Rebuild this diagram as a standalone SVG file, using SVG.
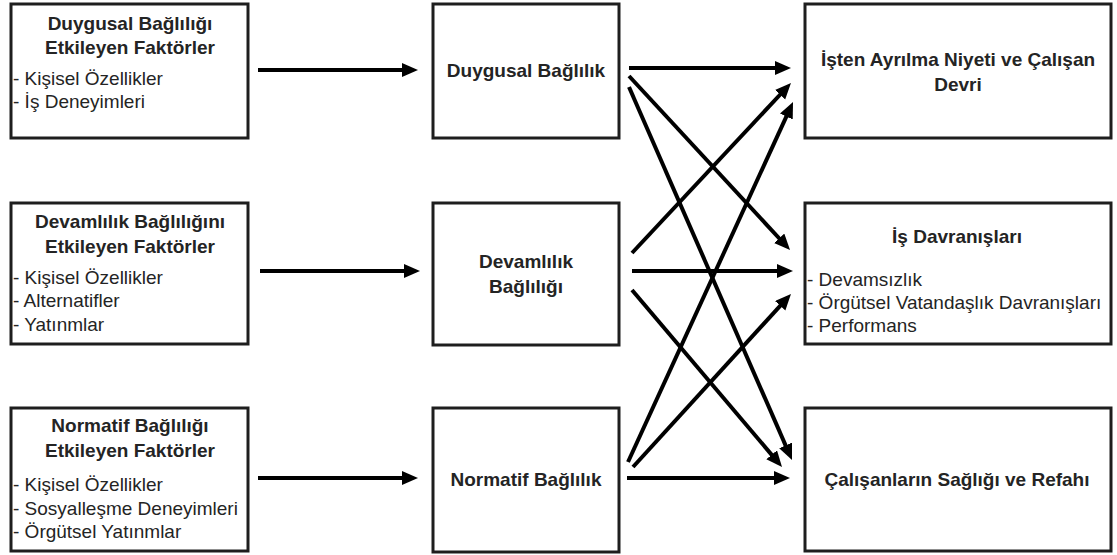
<svg xmlns="http://www.w3.org/2000/svg" width="1117" height="555" viewBox="0 0 1117 555">
<defs>
<style>
.box{fill:#fff;stroke:#1e1e1e;stroke-width:3}
.t{font-family:"Liberation Sans",Arial,sans-serif;font-size:19px;fill:#242424}
.b{font-weight:bold}
.c{text-anchor:middle}
.con line{stroke:#000;stroke-width:4;marker-end:url(#ah)}
</style>
<marker id="ah" markerUnits="userSpaceOnUse" markerWidth="17" markerHeight="15" refX="3" refY="7" orient="auto" viewBox="0 0 17 15">
<path d="M0,0 L16,7 L0,14 Z" fill="#000"/>
</marker>
</defs>
<rect width="1117" height="555" fill="#fff"/>

<g id="left1">
<rect class="box" x="11" y="4" width="237" height="134"/>
<text class="t b c" x="130" y="30">Duygusal Bağlılığı</text>
<text class="t b c" x="130" y="54">Etkileyen Faktörler</text>
<text class="t" x="13" y="85">- Kişisel Özellikler</text>
<text class="t" x="13" y="108">- İş Deneyimleri</text>
</g>
<g id="left2">
<rect class="box" x="11" y="203" width="237" height="141"/>
<text class="t b c" x="130" y="228">Devamlılık Bağlılığını</text>
<text class="t b c" x="130" y="253">Etkileyen Faktörler</text>
<text class="t" x="13" y="284">- Kişisel Özellikler</text>
<text class="t" x="13" y="307">- Alternatifler</text>
<text class="t" x="13" y="331">- Yatınmlar</text>
</g>
<g id="left3">
<rect class="box" x="11" y="408" width="237" height="143"/>
<text class="t b c" x="130" y="432">Normatif Bağlılığı</text>
<text class="t b c" x="130" y="457">Etkileyen Faktörler</text>
<text class="t" x="13" y="491">- Kişisel Özellikler</text>
<text class="t" x="13" y="515">- Sosyalleşme Deneyimleri</text>
<text class="t" x="13" y="538">- Örgütsel Yatınmlar</text>
</g>

<g id="mid1">
<rect class="box" x="433" y="4" width="186" height="134"/>
<text class="t b c" x="526" y="77">Duygusal Bağlılık</text>
</g>
<g id="mid2">
<rect class="box" x="433" y="203" width="186" height="142"/>
<text class="t b c" x="526" y="268">Devamlılık</text>
<text class="t b c" x="526" y="293">Bağlılığı</text>
</g>
<g id="mid3">
<rect class="box" x="433" y="408" width="186" height="144"/>
<text class="t b c" x="526" y="486">Normatif Bağlılık</text>
</g>

<g id="right1">
<rect class="box" x="805" y="4" width="306" height="134"/>
<text class="t b c" x="958" y="66">İşten Ayrılma Niyeti ve Çalışan</text>
<text class="t b c" x="958" y="91">Devri</text>
</g>
<g id="right2">
<rect class="box" x="805" y="203" width="306" height="141"/>
<text class="t b c" x="957" y="243">İş Davranışları</text>
<text class="t" x="807" y="286">- Devamsızlık</text>
<text class="t" x="807" y="309">- Örgütsel Vatandaşlık Davranışları</text>
<text class="t" x="807" y="332">- Performans</text>
</g>
<g id="right3">
<rect class="box" x="805" y="408" width="306" height="143"/>
<text class="t b c" x="957" y="486">Çalışanların Sağlığı ve Refahı</text>
</g>

<g id="connectors" class="con">
<line x1="258" y1="70" x2="405" y2="70"/>
<line x1="260" y1="271" x2="407" y2="271"/>
<line x1="258" y1="478" x2="405" y2="478"/>
<line x1="629" y1="68" x2="778" y2="68"/>
<line x1="629" y1="76" x2="781.2" y2="240.5"/>
<line x1="629" y1="87" x2="786.8" y2="448.1"/>
<line x1="632" y1="253" x2="782.1" y2="92.5"/>
<line x1="632" y1="271" x2="780" y2="271"/>
<line x1="632" y1="290" x2="773.6" y2="457.1"/>
<line x1="628" y1="462" x2="787.6" y2="113.8"/>
<line x1="633" y1="467" x2="782.2" y2="303.6"/>
<line x1="627" y1="478" x2="777" y2="478"/>
</g>
</svg>
